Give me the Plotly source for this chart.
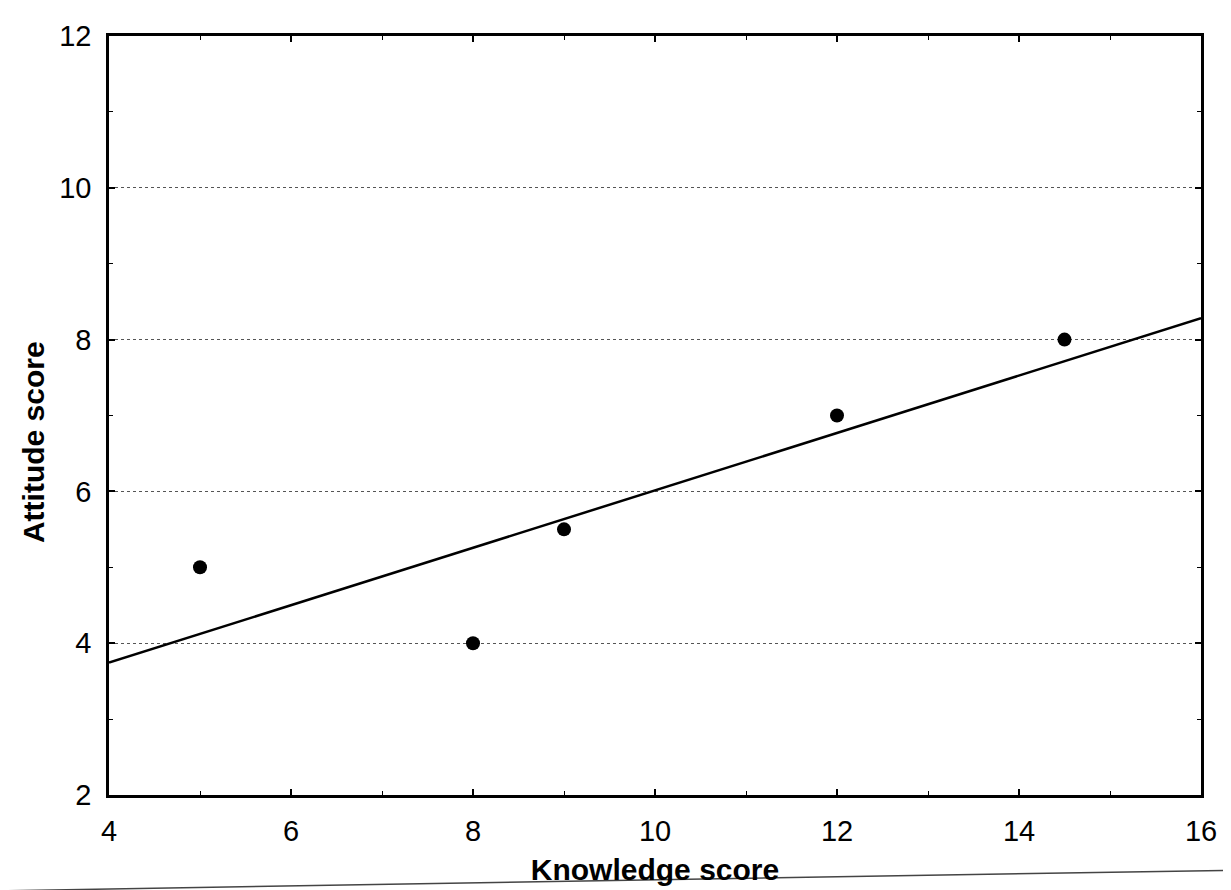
import numpy as np
import plotly.graph_objects as go

# Data
knowledge = [5.0, 8.0, 9.0, 12.0, 14.5]
attitude = [5.0, 4.0, 5.5, 7.0, 8.0]

x_ticks = [4, 6, 8, 10, 12, 14, 16]
y_ticks = [2, 4, 6, 8, 10, 12]

# Least-squares fit line across the x range
slope, intercept = np.polyfit(knowledge, attitude, 1)
fit_x = [4, 16]
fit_y = [intercept + slope * v for v in fit_x]

fig = go.Figure()
fig.add_trace(go.Scatter(x=fit_x, y=fit_y, mode="lines",
                         line=dict(color="black", width=2.5),
                         showlegend=False, hoverinfo="skip"))
fig.add_trace(go.Scatter(x=knowledge, y=attitude, mode="markers",
                         marker=dict(color="black", size=14),
                         showlegend=False))

font_family = "Liberation Sans, Arial, sans-serif"

fig.update_layout(
    width=1231, height=890,
    margin=dict(l=101, r=38, t=21, b=103),
    paper_bgcolor="white", plot_bgcolor="white",
    font=dict(family=font_family, color="black", size=29),
    xaxis=dict(
        range=[4, 16], tickvals=x_ticks, ticktext=[str(v) for v in x_ticks],
        showgrid=False, zeroline=False,
        showline=True, linecolor="black", linewidth=2.5, mirror="ticks",
        ticks="inside", ticklen=6, tickwidth=1.5, tickcolor="black",
        minor=dict(dtick=1, ticks="inside", ticklen=4, tickwidth=1, tickcolor="black"),
        tickfont=dict(size=29), ticklabelstandoff=8,
        title=dict(text="<b>Knowledge score</b>", font=dict(size=30), standoff=14),
    ),
    yaxis=dict(
        range=[2, 12], tickvals=y_ticks, ticktext=[str(v) for v in y_ticks],
        showgrid=True, gridcolor="#555555", gridwidth=1, griddash="dot",
        zeroline=False,
        showline=True, linecolor="black", linewidth=2.5, mirror="ticks",
        ticks="inside", ticklen=6, tickwidth=1.5, tickcolor="black",
        minor=dict(dtick=1, ticks="inside", ticklen=4, tickwidth=1, tickcolor="black", showgrid=False),
        tickfont=dict(size=29), ticklabelstandoff=9,
    ),
    annotations=[dict(
        text="<b>Attitude score</b>", textangle=-90, showarrow=False,
        xref="paper", yref="paper", x=-0.0696, y=0.465,
        xanchor="center", yanchor="middle", font=dict(size=30),
    )],
)

# Scanner rule across the bottom of the page
fig.add_shape(type="line", xref="paper", yref="paper",
              x0=-0.0925, y0=-0.126, x1=1.035, y1=-0.099,
              line=dict(color="#444444", width=1.5), layer="below")

fig.write_html("out.html")
